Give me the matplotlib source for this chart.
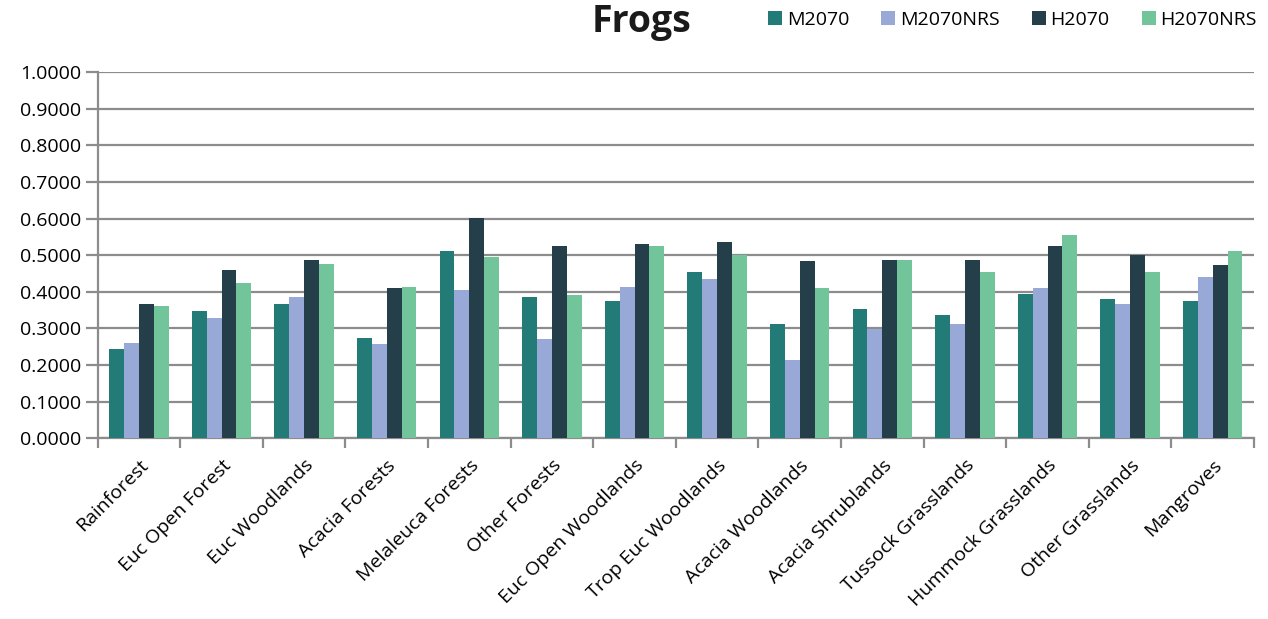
import matplotlib
matplotlib.use("Agg")
import matplotlib.pyplot as plt
import numpy as np
from matplotlib.patches import Patch
from matplotlib.ticker import FormatStrFormatter

plt.rcParams["font.family"] = ["Open Sans", "DejaVu Sans"]

categories = [
    "Rainforest", "Euc Open Forest", "Euc Woodlands", "Acacia Forests",
    "Melaleuca Forests", "Other Forests", "Euc Open Woodlands",
    "Trop Euc Woodlands", "Acacia Woodlands", "Acacia Shrublands",
    "Tussock Grasslands", "Hummock Grasslands", "Other Grasslands", "Mangroves",
]

m2070 = [0.245, 0.347, 0.366, 0.275, 0.511, 0.386, 0.376, 0.453, 0.313, 0.352, 0.337, 0.395, 0.381, 0.376]
m2070nrs = [0.260, 0.328, 0.386, 0.257, 0.405, 0.270, 0.414, 0.434, 0.213, 0.299, 0.313, 0.410, 0.366, 0.439]
h2070 = [0.366, 0.459, 0.486, 0.410, 0.602, 0.525, 0.531, 0.535, 0.483, 0.486, 0.486, 0.525, 0.501, 0.472]
h2070nrs = [0.361, 0.424, 0.477, 0.413, 0.496, 0.390, 0.525, 0.501, 0.410, 0.486, 0.453, 0.554, 0.453, 0.511]

series_names = ["M2070", "M2070NRS", "H2070", "H2070NRS"]
series_colors = ["#237b78", "#98a9d8", "#243e4a", "#72c59a"]
series_values = [m2070, m2070nrs, h2070, h2070nrs]

grid_color = "#8c8c8c"

fig = plt.figure(figsize=(12.68, 6.19), dpi=100)
ax = fig.add_axes([0.077, 0.2919, 0.912, 0.5918])

x = np.arange(len(categories))
width = 0.18
for i, (vals, color, name) in enumerate(zip(series_values, series_colors, series_names)):
    ax.bar(x + (i - 1.5) * width, vals, width, color=color, label=name, zorder=3)

ax.set_xlim(-0.5, len(categories) - 0.5)
ax.set_ylim(0, 1.0)
ax.set_yticks(np.arange(0, 1.0001, 0.1))
ax.yaxis.set_major_formatter(FormatStrFormatter("%.4f"))
ax.yaxis.grid(True, color=grid_color, linewidth=1.6, zorder=0)
ax.set_axisbelow(True)

for side in ("top", "right"):
    ax.spines[side].set_visible(False)
for side in ("left", "bottom"):
    ax.spines[side].set_color(grid_color)
    ax.spines[side].set_linewidth(1.6)

ax.tick_params(axis="y", length=9, width=1.6, color=grid_color, labelsize=14, pad=3)

# category boundaries carry the tick marks, centres carry the labels
ax.set_xticks(np.arange(-0.5, len(categories), 1.0))
ax.set_xticklabels([])
ax.tick_params(axis="x", which="major", length=7, width=1.6, color=grid_color, direction="out")
ax.set_xticks(x, minor=True)
ax.set_xticklabels(categories, minor=True, rotation=45, ha="right",
                   rotation_mode="anchor", fontsize=14)
ax.tick_params(axis="x", which="minor", length=0, pad=13)

fig.text(0.506, 1 - 32 / 619, "Frogs", fontsize=27, fontweight="bold",
         ha="center", va="baseline", color="#1a1a1a")

handles = [Patch(facecolor=c, label=n) for c, n in zip(series_colors, series_names)]
fig.legend(handles=handles, loc="center right", bbox_to_anchor=(1257 / 1268, 1 - 20 / 619),
           ncol=4, frameon=False, handlelength=0.72, handleheight=0.72,
           handletextpad=0.25, columnspacing=1.65, fontsize=14,
           borderaxespad=0, borderpad=0)

fig.savefig("out.png", dpi=100, facecolor="white")
